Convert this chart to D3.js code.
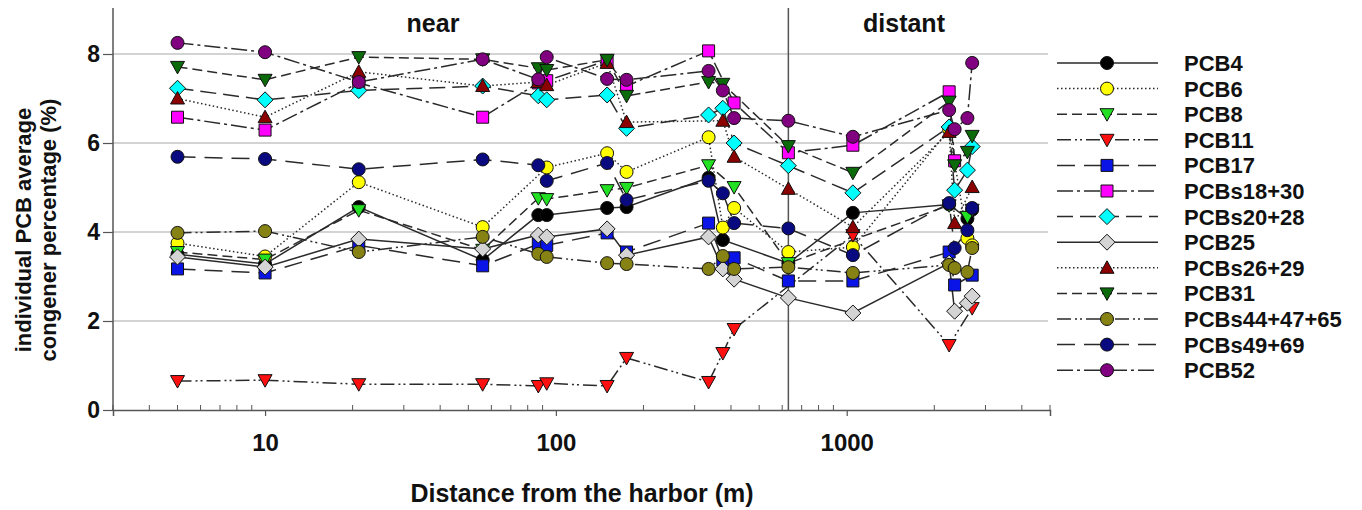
<!DOCTYPE html>
<html><head><meta charset="utf-8">
<script src="https://cdn.jsdelivr.net/npm/d3@7"></script>
<style>
body{margin:0;background:#fff}
text{font-family:Arial,"Liberation Sans",sans-serif;font-weight:bold;fill:#111}
</style>
</head><body>
<svg id="c" width="1362" height="510"></svg>
<script>
// sampling distances (m)
const distances = [5, 10, 21, 56, 87, 93, 150, 175, 335, 375, 410, 630, 1050, 2250, 2350, 2600, 2700];
const xTickValues = [10, 100, 1000];
const yTickValues = [0, 2, 4, 6, 8];
const zoneBoundary = 630;
const zoneLabels = ["near", "distant"];
const names = ["PCB4","PCB6","PCB8","PCB11","PCB17","PCBs18+30","PCBs20+28","PCB25","PCBs26+29","PCB31","PCBs44+47+65","PCBs49+69","PCB52"];

const pcb4    = [3.50,3.28,4.56,3.37,4.38,4.38,4.54,4.56,5.22,3.82,null,3.30,4.43,4.62,null,4.30,4.50];
const pcb6    = [3.75,3.45,5.12,4.11,null,5.45,5.77,5.35,6.13,4.10,4.54,3.55,3.66,6.30,null,3.86,3.70];
const pcb8    = [3.55,3.38,4.49,3.60,4.76,4.74,4.94,4.99,5.50,null,5.01,3.30,null,4.60,null,4.34,4.50];
const pcb11   = [0.65,0.67,0.58,0.58,0.54,0.60,0.54,1.17,0.63,1.28,1.82,null,3.93,1.46,null,null,2.29];
const pcb17   = [3.17,3.08,3.70,3.24,3.73,3.70,3.98,3.55,4.20,3.37,3.42,2.90,2.90,3.55,2.81,null,3.03];
const pcb18_30= [6.58,6.29,7.35,6.58,7.35,7.40,7.85,7.28,8.07,null,6.90,5.78,5.95,7.15,5.60,null,null];
const pcb20_28= [7.23,6.97,7.18,7.28,7.06,6.97,7.08,6.33,6.63,6.78,6.00,5.49,4.88,6.36,4.94,5.39,5.92];
const pcb25   = [3.44,3.21,3.84,3.62,3.93,3.89,4.07,3.48,3.89,3.17,2.94,2.52,2.18,3.30,2.22,2.40,2.56];
const pcb26_29= [7.00,6.58,7.60,7.28,7.37,7.30,7.80,6.47,null,6.50,5.69,4.97,4.11,6.25,4.20,null,5.01];
const pcb31   = [7.71,7.42,7.93,7.88,7.68,7.64,7.87,7.06,7.37,7.33,null,5.93,5.33,6.93,5.50,5.80,6.16];
const pcb44_47_65=[3.98,4.02,3.55,3.89,3.51,3.44,3.30,3.28,3.17,3.46,3.17,3.21,3.08,3.26,3.19,3.10,3.64];
const pcb49_69= [5.69,5.64,5.41,5.63,5.50,5.15,5.55,4.72,5.15,4.87,4.20,4.08,3.48,4.65,3.64,4.04,4.54];
const pcb52   = [8.25,8.04,7.37,7.88,7.43,7.93,7.44,7.42,7.62,7.18,6.56,6.50,6.14,6.74,6.31,6.56,7.80];

const values = [pcb4,pcb6,pcb8,pcb11,pcb17,pcb18_30,pcb20_28,pcb25,pcb26_29,pcb31,pcb44_47_65,pcb49_69,pcb52];
const styles = [
  {fill:"#000000", shape:"circle", dash:null},
  {fill:"#ffff00", shape:"circle", dash:"1.5,2.5"},
  {fill:"#22e022", shape:"down",   dash:"10,5"},
  {fill:"#ff1010", shape:"down",   dash:"14,4,2,3,2,4"},
  {fill:"#0a14e6", shape:"square", dash:"18,9"},
  {fill:"#ff00ff", shape:"square", dash:"16,4,3,4"},
  {fill:"#00ffff", shape:"diamond",dash:"16,7"},
  {fill:"#d4d4d4", shape:"diamond",dash:null},
  {fill:"#8b0000", shape:"up",     dash:"1.5,2.5"},
  {fill:"#0b6b0b", shape:"down",   dash:"10,5"},
  {fill:"#878214", shape:"circle", dash:"14,4,2,3,2,4"},
  {fill:"#0a0a80", shape:"circle", dash:"18,9"},
  {fill:"#800080", shape:"circle", dash:"16,4,3,4"}
];

function markerPath(shape){
  const p = d3.path();
  if(shape==="circle"){ p.arc(0,0,6.5,0,2*Math.PI); }
  else if(shape==="square"){ p.rect(-6,-6,12,12); }
  else if(shape==="diamond"){ p.moveTo(0,-8);p.lineTo(8,0);p.lineTo(0,8);p.lineTo(-8,0);p.closePath(); }
  else if(shape==="down"){ p.moveTo(-7,-5.5);p.lineTo(7,-5.5);p.lineTo(0,7);p.closePath(); }
  else if(shape==="up"){ p.moveTo(-7,5.5);p.lineTo(7,5.5);p.lineTo(0,-7);p.closePath(); }
  return p.toString();
}

const svg = d3.select("#c");
const L=113, R=1050, T=8, B=410;
const x = d3.scaleLog().domain([3,5000]).range([L,R]);
const y = d3.scaleLinear().domain([0,9]).range([B,B-9*44.5]);
const FONT = "Arial, 'Liberation Sans', sans-serif";

// gridlines
svg.append("g").selectAll("line").data(yTickValues.filter(v=>v>0)).join("line")
  .attr("x1",L).attr("x2",R-2).attr("y1",d=>y(d)).attr("y2",d=>y(d))
  .attr("stroke","#c4c4c4").attr("stroke-width",1.5);

// zone boundary
svg.append("line").attr("x1",x(zoneBoundary)).attr("x2",x(zoneBoundary))
  .attr("y1",T).attr("y2",B).attr("stroke","#555").attr("stroke-width",1.5);

// x axis
const xAxis = d3.axisBottom(x).tickValues(xTickValues).tickFormat(d3.format("d")).tickSize(6).tickPadding(18);
const gx = svg.append("g").attr("transform",`translate(0,${B})`).call(xAxis);
gx.select(".domain").attr("stroke","#555").attr("stroke-width",1.5);
gx.selectAll(".tick line").attr("stroke","#555").attr("stroke-width",1.2);
gx.selectAll(".tick text").style("font-size","24px").style("font-family",FONT).style("font-weight","bold").attr("fill","#111");
// minor ticks (inside)
const minor = x.ticks(40).filter(v=>!xTickValues.includes(v) && v>=3 && v<=5000);
svg.append("g").selectAll("line").data(minor).join("line")
  .attr("x1",d=>x(d)).attr("x2",d=>x(d)).attr("y1",B).attr("y2",B-5)
  .attr("stroke","#555").attr("stroke-width",1);

// y axis
const yAxis = d3.axisLeft(y).tickValues(yTickValues).tickFormat(d3.format("d")).tickSize(10).tickPadding(3);
const gy = svg.append("g").attr("transform",`translate(${L},0)`).call(yAxis);
gy.select(".domain").attr("d",`M0,${T}V${B}`).attr("stroke","#555").attr("stroke-width",1.5);
gy.selectAll(".tick line").attr("stroke","#555").attr("stroke-width",1.2);
gy.selectAll(".tick text").style("font-size","23px").style("font-family",FONT).style("font-weight","bold").attr("fill","#111");

// axis titles
svg.append("text").attr("x",582).attr("y",502).attr("text-anchor","middle").style("font-size","25px").text("Distance from the harbor (m)");
svg.append("text").attr("transform","translate(31,230) rotate(-90)").attr("text-anchor","middle").style("font-size","22px").text("individual PCB average");
svg.append("text").attr("transform","translate(56,230) rotate(-90)").attr("text-anchor","middle").style("font-size","22px").text("congener percentage (%)");

// zone labels
svg.append("text").attr("x",433).attr("y",32).attr("text-anchor","middle").style("font-size","25px").text(zoneLabels[0]);
svg.append("text").attr("x",904).attr("y",32).attr("text-anchor","middle").style("font-size","25px").text(zoneLabels[1]);

// series lines
const line = d3.line().x(d=>x(d[0])).y(d=>y(d[1]));
const series = names.map((n,i)=>({name:n, style:styles[i],
  pts: distances.map((d,j)=>[d, values[i][j]]).filter(p=>p[1]!==null)}));

const gl = svg.append("g");
series.forEach(s=>{
  gl.append("path").attr("d",line(s.pts)).attr("fill","none")
    .attr("stroke","#2a2a2a").attr("stroke-width",1.5)
    .attr("stroke-dasharray",s.style.dash);
});
const gm = svg.append("g");
series.forEach(s=>{
  gm.selectAll(null).data(s.pts).join("path")
    .attr("d",markerPath(s.style.shape))
    .attr("transform",d=>`translate(${x(d[0])},${y(d[1])})`)
    .attr("fill",s.style.fill).attr("stroke","#111").attr("stroke-width",1);
});

// legend
const lg = svg.append("g");
series.forEach((s,i)=>{
  const ly = 63 + i*25.6;
  lg.append("line").attr("x1",1057).attr("x2",1158).attr("y1",ly).attr("y2",ly)
    .attr("stroke","#2a2a2a").attr("stroke-width",1.5).attr("stroke-dasharray",s.style.dash);
  lg.append("path").attr("d",markerPath(s.style.shape)).attr("transform",`translate(1107,${ly})`)
    .attr("fill",s.style.fill).attr("stroke","#111").attr("stroke-width",1);
  lg.append("text").attr("x",1184).attr("y",ly+8).style("font-size","22px").text(s.name);
});
</script>
</body></html>
